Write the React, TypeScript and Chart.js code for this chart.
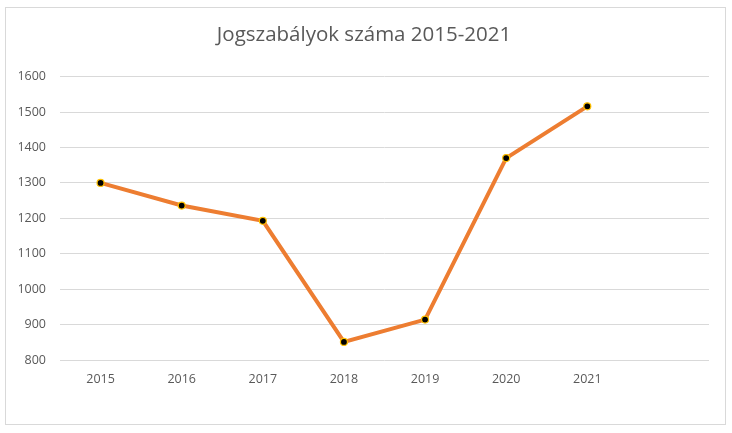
import React, { useEffect, useRef } from "react";
import { Chart, registerables } from "chart.js";

Chart.register(...registerables);

const TITLE = "Jogszabályok száma 2015-2021";
const CATEGORIES = ["2015", "2016", "2017", "2018", "2019", "2020", "2021", ""];
const VALUES: (number | null)[] = [1300, 1236, 1193, 851, 914, 1370, 1516, null];
const Y_MIN = 800;
const Y_MAX = 1600;
const Y_STEP = 100;

const FONT = "'Open Sans', 'Liberation Sans', sans-serif";
const TEXT_COLOR = "#595959";

export default function App() {
  const ref = useRef<HTMLCanvasElement | null>(null);

  useEffect(() => {
    if (!ref.current) return;
    const chart = new Chart(ref.current, {
      type: "line",
      data: {
        labels: CATEGORIES,
        datasets: [
          {
            data: VALUES,
            borderColor: "#ED7D31",
            borderWidth: 4,
            pointRadius: 3.5,
            pointBackgroundColor: "#000000",
            pointBorderColor: "#FFC000",
            pointBorderWidth: 1.2,
            tension: 0,
            spanGaps: false,
          },
        ],
      },
      options: {
        animation: false,
        responsive: false,
        maintainAspectRatio: false,
        layout: { padding: { left: 19, right: 23, top: 0, bottom: 34 } },
        plugins: {
          legend: { display: false },
          tooltip: { enabled: false },
          title: {
            display: true,
            text: TITLE,
            color: TEXT_COLOR,
            font: { family: FONT, size: 20.5, weight: "normal" },
            padding: { top: 23, bottom: 29 },
          },
        },
        scales: {
          x: {
            offset: true,
            grid: { display: false, drawTicks: false },
            border: { display: false },
            ticks: {
              color: TEXT_COLOR,
              font: { family: FONT, size: 12.5 },
              padding: 12,
              maxRotation: 0,
              autoSkip: false,
            },
          },
          y: {
            min: Y_MIN,
            max: Y_MAX,
            afterFit: (s: any) => {
              s.width = 41;
            },
            grid: { color: "#d9d9d9", drawTicks: false, lineWidth: 1 },
            border: { display: false },
            ticks: {
              stepSize: Y_STEP,
              color: TEXT_COLOR,
              font: { family: FONT, size: 12.5 },
              padding: 14,
              callback: (v: any) => String(v),
            },
          },
        },
      },
    });
    return () => chart.destroy();
  }, []);

  return (
    <div style={{ position: "fixed", left: 0, top: 0, width: 732, height: 433, background: "#fff" }}>
      <div
        style={{
          position: "absolute",
          left: 5,
          top: 7,
          width: 721,
          height: 418,
          border: "1px solid #d9d9d9",
          boxSizing: "border-box",
        }}
      />
      <canvas ref={ref} width={732} height={433} style={{ position: "absolute", left: 0, top: 0 }} />
    </div>
  );
}
